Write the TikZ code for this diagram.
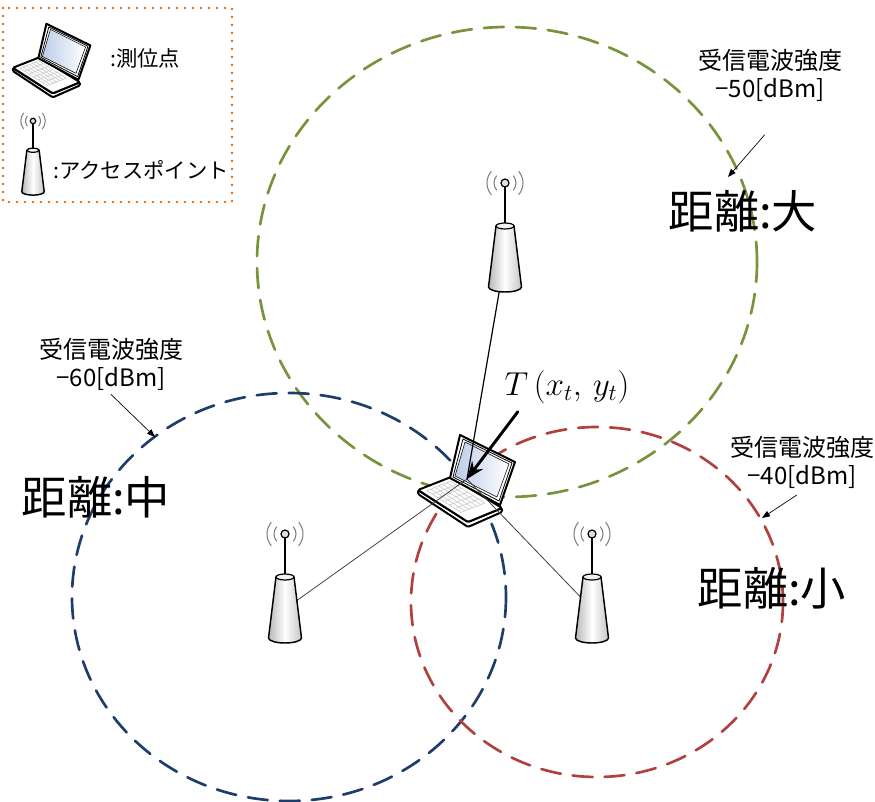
\documentclass[tikz,border=0pt]{standalone}
\usepackage[no-math]{fontspec}
\setmainfont{Noto Sans CJK JP}
\usepackage{tikz}
\usetikzlibrary{arrows}
\usetikzlibrary{arrows.meta}
\usetikzlibrary{positioning}
\definecolor{olivegreen}{RGB}{119,147,60}
\definecolor{navyblue}{RGB}{31,61,107}
\definecolor{brickred}{RGB}{176,65,62}
\definecolor{dotorange}{RGB}{228,108,10}
\definecolor{glassblue}{RGB}{188,204,232}

\tikzset{
  rangering/.style={dash pattern=on 15pt off 9pt, line width=2pt},
  rssi/.style={font=\fontsize{18}{21}\selectfont, align=center, inner sep=1pt},
  dist/.style={font=\fontsize{34}{40}\selectfont, inner sep=0pt},
  legendtext/.style={font=\fontsize{16}{19}\selectfont, anchor=west, inner sep=0pt},
  ptr/.style={-{Triangle[length=6pt,width=4.5pt]}, line width=0.5pt},
  % notebook PC, origin at the hinge
  laptop/.pic={
    \filldraw[fill=white,line width=1.5pt,rounded corners=1pt]
      (-49,11) -- (-49,15) -- (1,48) -- (35,33) -- (35,29) -- (1,43) -- cycle;
    \filldraw[fill=white,line width=1.5pt,rounded corners=1pt]
      (-49,11) -- (-16,-2) -- (35,29) -- (1,43) -- cycle;
    \foreach \s in {0.15,0.27,0.39,0.51,0.63,0.75,0.87}
      \draw[gray!40,line width=0.5pt] ({-49+33*\s+50*0.08},{11-13*\s+32*0.08}) -- ({-49+33*\s+50*0.76},{11-13*\s+32*0.76});
    \foreach \t in {0.08,0.19,0.30,0.42,0.53,0.64,0.76}
      \draw[gray!40,line width=0.5pt] ({-49+33*0.15+50*\t},{11-13*0.15+32*\t}) -- ({-49+33*0.87+50*\t},{11-13*0.87+32*\t});
    \filldraw[fill=white,line width=1.5pt,line join=round] (-17,-1) -- (-7,-44) -- (48,-17) -- (33,26) -- cycle;
    \draw[line width=0.6pt] (-14,-2) -- (-4,-40) -- (45,-16) -- (32,22) -- cycle;
    \shade[left color=glassblue,right color=white,draw=black,line width=0.4pt]
      (-12,-3) -- (-2,-37) -- (42,-15) -- (30,18) -- cycle;
  },
  % access point, origin in the middle of the body
  accesspoint/.pic={
    \foreach \r in {11,18}{
      \draw[gray,line width=0.8pt] (0,-75) ++(-40:\r) arc (-40:40:\r);
      \draw[gray,line width=0.8pt] (0,-75) ++(140:\r) arc (140:220:\r);
    }
    \draw[line width=1.2pt] (0,-32) -- (0,-71);
    \filldraw[fill=gray!25,line width=0.9pt] (0,-75) circle (4);
    \shade[left color=gray!55,right color=gray!45,middle color=white,draw=black,line width=1.1pt]
      (-9,-32) -- (-16.5,29) arc[start angle=180,end angle=0,x radius=16.5,y radius=5] -- (9,-32) -- cycle;
    \filldraw[fill=gray!10,line width=0.9pt] (0,-32) ellipse (9 and 3);
  }
}

\begin{document}
\begin{tikzpicture}[line cap=round,line join=round,x=0.75pt,y=-0.75pt]
\useasboundingbox (0,0) rectangle (875,802);

% legend
\draw[dotorange,line width=2pt,dash pattern=on 0pt off 6pt] (3,8) rectangle (232,202);
\pic (lgPC) [scale=0.8] at (52,59) {laptop};
\pic (lgAP) [scale=0.68] at (33,172) {accesspoint};
\node[legendtext] (lgPCtxt) at (110,58) {:測位点};
\node[legendtext] (lgAPtxt) at (53,170) {:アクセスポイント};

% received signal ranges
\coordinate (cG) at (507,262);
\coordinate (cB) at (289,597);
\coordinate (cR) at (597,602);
\draw[rangering,olivegreen] (cG) ellipse (250 and 235);
\draw[rangering,navyblue] (cB) ellipse (217 and 204);
\draw[rangering,brickred] (cR) ellipse (186 and 175);

% terminal and access points
\coordinate (T) at (467,479);
\coordinate (apTop) at (505,258);
\coordinate (apLeft) at (285,609);
\coordinate (apRight) at (592,609);
\pic (pc) at (T) {laptop};
\draw[line width=0.9pt] (T) -- (apTop);
\draw[black!75,line width=0.6pt] (T) -- (apLeft);
\draw[black!75,line width=0.6pt] (T) -- (apRight);
\pic (ap1) at (apTop) {accesspoint};
\pic (ap2) at (apLeft) {accesspoint};
\pic (ap3) at (apRight) {accesspoint};

\node[inner sep=0pt,font=\fontsize{27}{32}\selectfont] (Tlbl) at (567,387) {$T\,(x_t,\,y_t)$};
\draw[-{Stealth[length=13pt,width=10pt]},line width=2.2pt] ([xshift=10pt,yshift=-6pt]Tlbl.south west) -- (T);

\node[dist] (dBig) at (743,211) {距離:大};
\node[dist] (dMid) at (96,497) {距離:中};
\node[dist] (dSmall) at (772,588) {距離:小};

\node[rssi] (rG) at (770,75) {受信電波強度\\−50[dBm]};
\node[rssi] (rB) at (111,364) {受信電波強度\\−60[dBm]};
\node[rssi] (rR) at (802,462) {受信電波強度\\−40[dBm]};
\coordinate (tipG) at (728,177);
\coordinate (tipB) at (155,437);
\coordinate (tipR) at (762,518);
\draw[ptr] ([xshift=-4pt,yshift=-24pt]rG.south) -- (tipG);
\draw[ptr] ([yshift=-2pt]rB.south) -- (tipB);
\draw[ptr] ([xshift=-4pt,yshift=-4pt]rR.south) -- (tipR);
\end{tikzpicture}
\end{document}
